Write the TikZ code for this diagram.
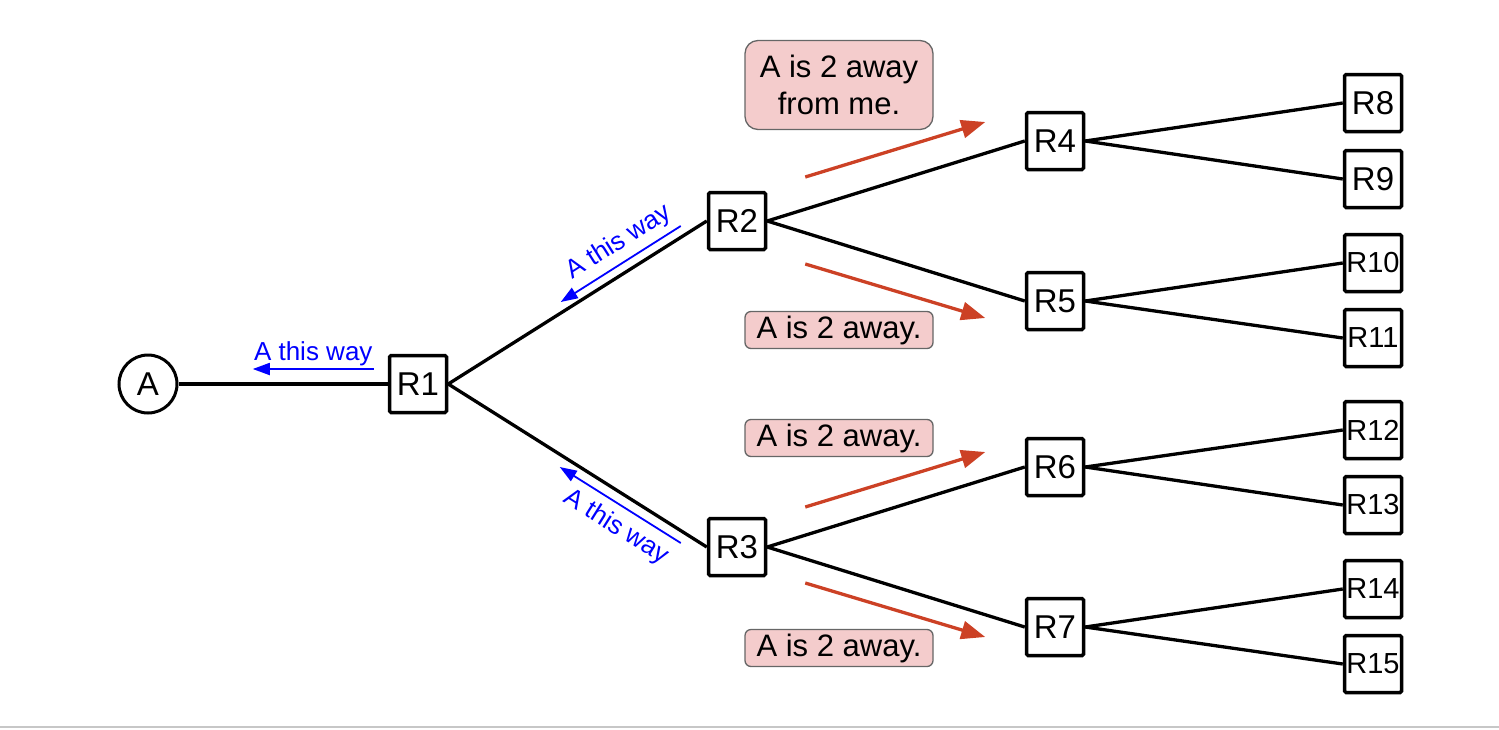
\documentclass[tikz,border=0pt]{standalone}
\usepackage{fontspec}
\setmainfont{Liberation Sans}
\usetikzlibrary{arrows.meta, calc}
\definecolor{hintblue}{RGB}{0, 0, 255}
\definecolor{pushred}{RGB}{204, 65, 37}
\definecolor{notefill}{RGB}{244, 204, 204}
\definecolor{noteline}{RGB}{102, 102, 102}
\tikzstyle{hostnode} = [
    circle,
    draw=black,
    line width=3pt,
    minimum size=58pt,
    inner sep=0pt,
    fill=white,
    font=\fontsize{33}{38}\selectfont
]
\tikzstyle{routerbox} = [
    rectangle,
    rounded corners=1.5pt,
    draw=black,
    line width=3.5pt,
    minimum size=57pt,
    inner sep=0pt,
    fill=white,
    font=\fontsize{33}{38}\selectfont
]
\tikzstyle{leafbox} = [
    routerbox,
    font=\fontsize{29}{34}\selectfont
]
\tikzstyle{notebox} = [
    rectangle,
    rounded corners=6pt,
    draw=noteline,
    line width=1.3pt,
    fill=notefill,
    minimum width=188pt,
    minimum height=37pt,
    inner sep=0pt,
    align=center,
    font=\fontsize{31}{37}\selectfont
]
\tikzstyle{link} = [
    line width=3.3pt
]
\tikzstyle{hintarrow} = [
    -{Triangle[length=17pt, width=12pt]},
    line width=1.8pt,
    color=hintblue
]
\tikzstyle{hintlabel} = [
    inner sep=2pt,
    text=hintblue,
    font=\fontsize{26}{30}\selectfont
]
\tikzstyle{pusharrow} = [
    -{Triangle[length=24pt, width=18pt]},
    line width=3.3pt,
    color=pushred
]

\begin{document}
\begin{tikzpicture}[x=1pt, y=-1pt]

\useasboundingbox (0,0) rectangle (1499,729);

% Host A and first router
\node[hostnode] (hostA) at (148, 384) {A};
\node[routerbox] (R1) at (418, 384) {R1};

% Second level
\node[routerbox] (R2) at (737, 221) {R2};
\node[routerbox] (R3) at (737, 547) {R3};

% Third level
\node[routerbox] (R4) at (1055, 141) {R4};
\node[routerbox] (R5) at (1055, 301) {R5};
\node[routerbox] (R6) at (1055, 467) {R6};
\node[routerbox] (R7) at (1055, 627) {R7};

% Leaves
\node[routerbox] (R8) at (1373, 103) {R8};
\node[routerbox] (R9) at (1373, 179) {R9};
\node[leafbox] (R10) at (1373, 263) {R10};
\node[leafbox] (R11) at (1373, 338) {R11};
\node[leafbox] (R12) at (1373, 430) {R12};
\node[leafbox] (R13) at (1373, 505) {R13};
\node[leafbox] (R14) at (1373, 589) {R14};
\node[leafbox] (R15) at (1373, 664) {R15};

% Links
\draw[link] (hostA.east) -- (R1.west);
\draw[link] (R1.east) -- (R2.west);
\draw[link] (R1.east) -- (R3.west);
\draw[link] (R2.east) -- (R4.west);
\draw[link] (R2.east) -- (R5.west);
\draw[link] (R3.east) -- (R6.west);
\draw[link] (R3.east) -- (R7.west);
\draw[link] (R4.east) -- (R8.west);
\draw[link] (R4.east) -- (R9.west);
\draw[link] (R5.east) -- (R10.west);
\draw[link] (R5.east) -- (R11.west);
\draw[link] (R6.east) -- (R12.west);
\draw[link] (R6.east) -- (R13.west);
\draw[link] (R7.east) -- (R14.west);
\draw[link] (R7.east) -- (R15.west);

% Blue hints back towards A
\draw[hintarrow] ($(R1.west)+(-14,-15)$) -- ++(-121,0)
    node[midway, above, hintlabel] {A this way};
\draw[hintarrow] ($(R2.west)+(-26,5)$) -- ++(-120,76)
    node[pos=0.43, above, sloped, hintlabel, inner sep=6pt] {A this way};
\draw[hintarrow] ($(R3.west)+(-26,-4)$) -- ++(-121,-76)
    node[pos=0.44, below, sloped, hintlabel, inner sep=8pt] {A this way};

% Red announcements
\draw[pusharrow] ($(R2.east)+(38,-44)$) -- ++(180,-55);
\draw[pusharrow] ($(R2.east)+(38,43)$) -- ++(180,54);
\draw[pusharrow] ($(R3.east)+(38,-40)$) -- ++(180,-55);
\draw[pusharrow] ($(R3.east)+(38,36)$) -- ++(180,54);

% Notes
\node[notebox, minimum height=89pt, rounded corners=13pt] (note1) at (839, 85) {A is 2 away\\from me.};
\node[notebox] (note2) at (839, 330) {A is 2 away.};
\node[notebox] (note3) at (839, 438) {A is 2 away.};
\node[notebox] (note4) at (839, 648) {A is 2 away.};

% Bottom rule
\draw[line width=2pt, color=black!22] (0, 727) -- (1499, 727);

\end{tikzpicture}
\end{document}
